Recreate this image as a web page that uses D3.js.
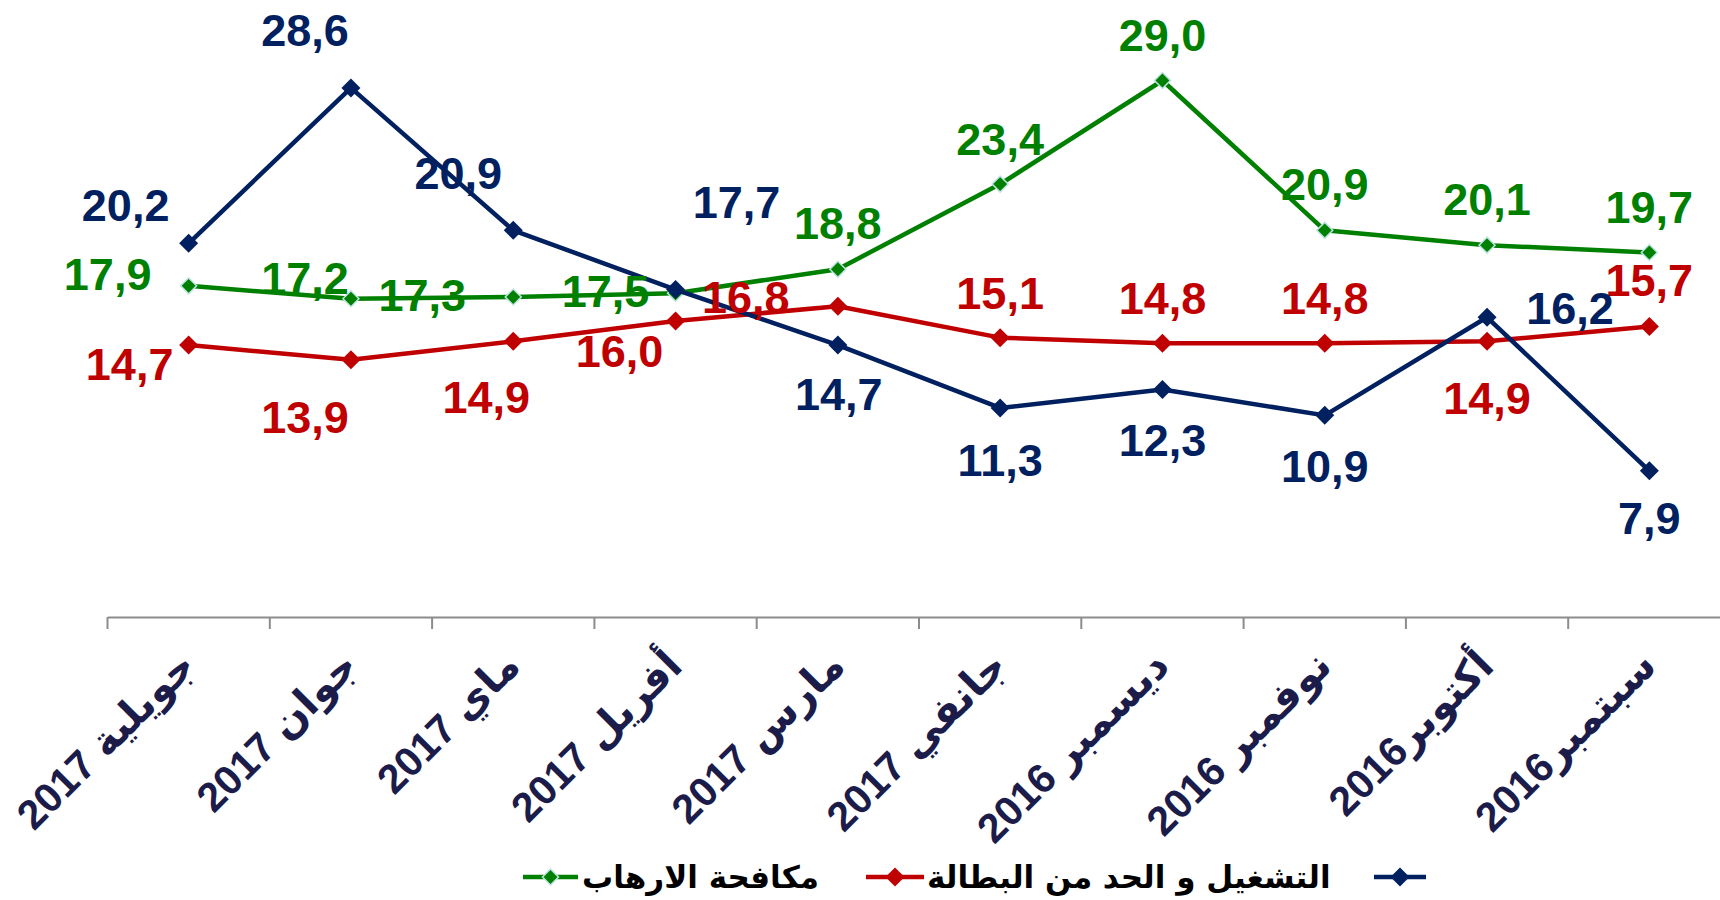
<!DOCTYPE html>
<html><head><meta charset="utf-8">
<script src="https://cdn.jsdelivr.net/npm/d3@7"></script>
<style>
html,body{margin:0;padding:0;background:#fff;}
svg{display:block;}
</style></head>
<body>
<svg id="chart" width="1720" height="900"></svg>
<script>
// ---- data ----
const categories = ["جويلية 2017","جوان 2017","ماي 2017","أفريل 2017","مارس 2017","جانفي 2017","ديسمبر 2016","نوفمبر 2016","أكتوبر2016","سبتمبر2016"];
const seriesBlue  = [20.2, 28.6, 20.9, 17.7, 14.7, 11.3, 12.3, 10.9, 16.2, 7.9];
const seriesRed   = [14.7, 13.9, 14.9, 16.0, 16.8, 15.1, 14.8, 14.8, 14.9, 15.7];
const seriesGreen = [17.9, 17.2, 17.3, 17.5, 18.8, 23.4, 29.0, 20.9, 20.1, 19.7];
const seriesNames = ["", "التشغيل و الحد من البطالة", "مكافحة الارهاب"];

// ---- layout (label offsets relative to points, px) ----
const offBlue  = [[-63,-39],[-46,-58],[-55,-58],[61,-88],[1,49],[0,52],[0,50],[0,50],[83,-10],[0,47]];
const offRed   = [[-59,19],[-46,57],[-27,55],[-56,30],[-92,-9],[0,-45],[0,-45],[0,-45],[0,56],[0,-47]];
const offGreen = [[-81,-12],[-46,-21],[-91,-2],[-70,-2],[0,-46],[0,-45],[0,-46],[0,-47],[0,-46],[0,-46]];

const svg = d3.select("#chart");
const axisY = 617;
const x = d3.scaleBand().domain(categories).range([107.5, 107.5 + 10*162.3]).padding(0);
const y = d3.scaleLinear().domain([0, 30]).range([axisY, 62]);
const cx = c => x(c) + x.bandwidth()/2;

const series = [
  {name: seriesNames[2], values: seriesGreen, color: "#008000", off: offGreen, msize: 16, mstroke: "#bfe3e3"},
  {name: seriesNames[1], values: seriesRed, color: "#C00000", off: offRed, msize: 19, mstroke: null},
  {name: seriesNames[0], values: seriesBlue, color: "#002060", off: offBlue, msize: 19, mstroke: null}
];

// axis
const axis = d3.axisBottom(x).tickSizeOuter(0).tickSizeInner(12).tickPadding(0);
const gx = svg.append("g").attr("transform", `translate(0,${axisY})`).call(axis);
gx.select(".domain").attr("stroke", "#8c8c8c").attr("stroke-width", 2);
gx.selectAll(".tick line").attr("stroke", "#8c8c8c").attr("stroke-width", 2)
  .attr("x1", -x.step()/2).attr("x2", -x.step()/2).attr("y1", 0).attr("y2", 12);
gx.selectAll(".tick text")
  .attr("x", 0).attr("y", 0).attr("dy", null)
  .attr("text-anchor", "end")
  .attr("transform", "translate(9,51) rotate(-45)")
  .attr("fill", "#1c1c4a")
  .style("font-family", "'Liberation Sans', 'DejaVu Sans', Arial, sans-serif")
  .style("font-weight", "bold")
  .style("font-size", "41px");

const diamond = (s) => d3.symbol().type(d3.symbolSquare).size((s/Math.SQRT2)*(s/Math.SQRT2))();

const line = d3.line().x((d,i) => cx(categories[i])).y(d => y(d));

series.forEach(s => {
  svg.append("path").datum(s.values).attr("d", line)
    .attr("fill", "none").attr("stroke", s.color).attr("stroke-width", 4.5)
    .attr("stroke-linejoin", "round");
  svg.append("g").selectAll("path").data(s.values).join("path")
    .attr("d", diamond(s.msize))
    .attr("transform", (d,i) => `translate(${cx(categories[i])},${y(d)}) rotate(45)`)
    .attr("fill", s.color)
    .attr("stroke", s.mstroke || "none").attr("stroke-width", s.mstroke ? 1.5 : 0);
});

const fmt = v => d3.format(".1f")(v).replace(".", ",");
series.forEach(s => {
  svg.append("g").selectAll("text").data(s.values).join("text")
    .attr("x", (d,i) => cx(categories[i]) + s.off[i][0])
    .attr("y", (d,i) => y(d) + s.off[i][1])
    .attr("dy", "0.36em")
    .attr("text-anchor", "middle")
    .attr("fill", s.color)
    .style("font-family", "'Liberation Sans', Arial, sans-serif")
    .style("font-weight", "bold")
    .style("font-size", "45px")
    .text(d => fmt(d));
});

// legend
const legY = 877;
const legend = [
  {s: series[0], x0: 523, x1: 578, tx: 582},
  {s: series[1], x0: 866, x1: 924, tx: 927},
  {s: series[2], x0: 1374, x1: 1426, tx: null}
];
const lg = svg.append("g");
legend.forEach(l => {
  lg.append("line").attr("x1", l.x0).attr("x2", l.x1).attr("y1", legY).attr("y2", legY)
    .attr("stroke", l.s.color).attr("stroke-width", 4.5);
  lg.append("path").attr("d", diamond(l.s.msize))
    .attr("transform", `translate(${(l.x0+l.x1)/2},${legY}) rotate(45)`)
    .attr("fill", l.s.color)
    .attr("stroke", l.s.mstroke || "none").attr("stroke-width", l.s.mstroke ? 1.5 : 0);
  if (l.tx !== null && l.s.name) {
    lg.append("text").attr("x", l.tx).attr("y", legY).attr("dy", "0.35em")
      .attr("text-anchor", "start").attr("fill", "#000")
      .style("font-family", "'DejaVu Sans', 'Liberation Sans', sans-serif")
      .style("font-weight", "bold").style("font-size", "31px")
      .text(l.s.name);
  }
});
</script>
</body></html>
